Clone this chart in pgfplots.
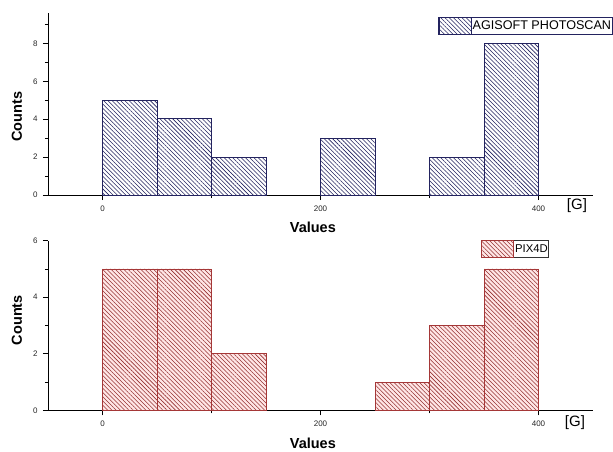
\documentclass[border=0pt]{standalone}
\usepackage{pgfplots}
\pgfplotsset{compat=1.18}
\usepackage{fontspec}
\setmainfont{Liberation Sans}
\usetikzlibrary{patterns.meta}
\definecolor{navyc}{RGB}{35,35,95}
\definecolor{redc}{RGB}{165,55,55}
\definecolor{pinkc}{RGB}{255,230,230}

\pgfplotsset{
  histax/.style={
    scale only axis, clip=false,
    width=545pt,
    xmin=-50, xmax=450, ymin=0,
    axis x line=bottom, axis y line=left,
    axis line style={-, black, line width=0.8pt},
    xtick={0,200,400}, minor xtick={100,300},
    tick align=outside,
    major tick length=5pt, minor tick length=3pt,
    every tick/.style={black, line width=0.6pt},
    /pgf/number format/assume math mode=true,
    tick label style={font=\fontsize{8}{9}\selectfont, text=black!85},
    xticklabel style={yshift=-2pt},
    yticklabel style={xshift=-2pt},
    xlabel={Values}, ylabel={Counts},
    legend cell align=left,
    legend style={anchor=north east, inner sep=0pt, outer sep=0pt,
      nodes={inner xsep=1pt, inner ysep=0pt},
      /tikz/every even column/.style={column sep=0pt}},
    legend image code/.code={\draw[##1] (0pt,-8.5pt) rectangle (32pt,8.5pt);},
  },
  topbar/.style={ybar interval, draw=navyc, line width=0.8pt, fill=white,
    postaction={pattern={Lines[angle=-45,distance=3pt,line width=0.55pt]}, pattern color=navyc}},
  botbar/.style={ybar interval, draw=redc, line width=0.8pt, fill=pinkc,
    postaction={pattern={Lines[angle=-45,distance=3pt,line width=0.55pt]}, pattern color=redc!90!black}},
}

\begin{document}
\begin{tikzpicture}
\path[use as bounding box] (0pt,0pt) rectangle (613pt,451pt);

% top panel
\begin{axis}[histax,
  at={(48pt,256pt)}, anchor=south west,
  height=182pt, ymax=9.6,
  ytick={0,2,4,6,8}, minor ytick={1,3,5,7,9},
  every axis x label/.style={at={(axis description cs:0.486,-0.176)}, anchor=center,
    font=\bfseries\fontsize{14.5}{16}\selectfont},
  every axis y label/.style={at={(axis description cs:-0.0569,0.431)}, anchor=center, rotate=90,
    font=\bfseries\fontsize{14.5}{16}\selectfont},
  legend style={at={(axis description cs:1.035,0.978)}, draw=navyc, line width=0.8pt,
    font=\fontsize{12.6}{14}\selectfont},
]
\addplot[topbar] coordinates {(0,5) (50,4.05) (100,2) (150,2)};
\addlegendentry{AGISOFT PHOTOSCAN}
\addplot[topbar, forget plot] coordinates {(200,3) (250,3)};
\addplot[topbar, forget plot] coordinates {(300,2) (350,8) (400,8)};
\node[font=\fontsize{15}{16}\selectfont] at (axis description cs:0.9706,-0.06) {[G]};
\end{axis}

% bottom panel
\begin{axis}[histax,
  at={(48pt,40.7pt)}, anchor=south west,
  height=169.6pt, ymax=6,
  ytick={0,2,4,6}, minor ytick={1,3,5},
  every axis x label/.style={at={(axis description cs:0.486,-0.193)}, anchor=center,
    font=\bfseries\fontsize{14.5}{16}\selectfont},
  every axis y label/.style={at={(axis description cs:-0.0569,0.532)}, anchor=center, rotate=90,
    font=\bfseries\fontsize{14.5}{16}\selectfont},
  legend style={at={(axis description cs:0.919,1.004)}, draw=black!80, line width=0.8pt,
    font=\fontsize{11.3}{13}\selectfont},
]
\addplot[botbar] coordinates {(0,5) (50,5) (100,2) (150,2)};
\addlegendentry{PIX4D}
\addplot[botbar, forget plot] coordinates {(250,1) (300,3) (350,5) (400,5)};
\node[font=\fontsize{15}{16}\selectfont] at (axis description cs:0.9669,-0.075) {[G]};
\end{axis}
\end{tikzpicture}
\end{document}
